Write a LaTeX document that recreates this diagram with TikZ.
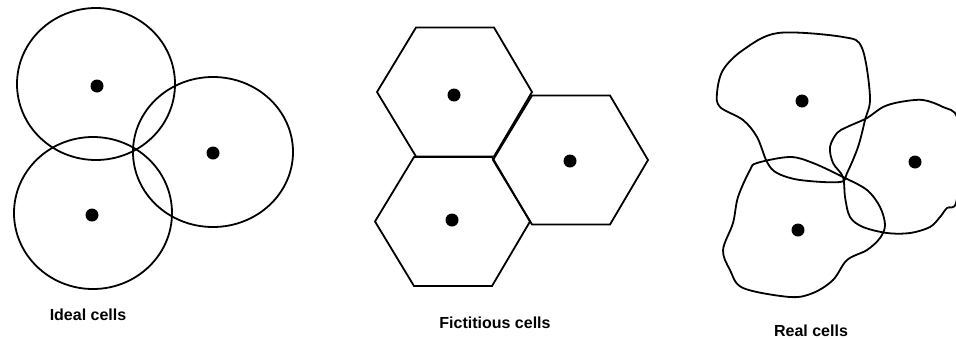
\documentclass[tikz,border=0pt]{standalone}
\usepackage{fontspec}
\setmainfont{Liberation Sans}
\begin{document}
\begin{tikzpicture}[x=0.5pt,y=-0.5pt,
    cell/.style={draw=black,line width=0.9pt},
    bts/.style={circle,fill=black,inner sep=0pt,minimum size=6.5pt},
    caption/.style={font=\fontsize{8}{9}\selectfont\bfseries}]
  \useasboundingbox (0,0) rectangle (956,338);
  % Ideal cells: circles around each base station
  \def\rx{39.5pt} \def\ry{38pt}
  \draw[cell] (96,84) ellipse [x radius=\rx,y radius=\ry];
  \draw[cell] (93,213) ellipse [x radius=\rx,y radius=\ry];
  \draw[cell] (213,152) ellipse [x radius=40pt,y radius=37.5pt];
  \node[bts] (ia) at (97,86) {};
  \node[bts] (ib) at (92,215) {};
  \node[bts] (ic) at (213,153) {};
  \node[caption] (ideal) at (88,315) {Ideal cells};
  % Fictitious cells: hexagons
  \newcommand{\hexcell}[1]{\draw[cell] (#1) ++(77,0) -- ++(-38,-64.5) -- ++(-78,0)
    -- ++(-39,64.5) -- ++(39,64.5) -- ++(78,0) -- cycle;}
  \hexcell{455,92}
  \hexcell{453,221.5}
  \hexcell{571,160}
  \node[bts] (fa) at (454,95) {};
  \node[bts] (fb) at (452,220) {};
  \node[bts] (fc) at (570,161) {};
  \node[caption] (fict) at (495,323) {Fictitious cells};
  % Real cells: irregular outlines
  \draw[cell] plot[smooth cycle,tension=0.55] coordinates {
    (778,33) (843,37) (862,48) (870,97) (865,120) (858,147) (847,173) (840,182)
    (800,180) (777,173) (767,162) (757,137) (743,120) (720,107) (717,93)
    (723,70) (743,50)};
  \draw[cell] plot[smooth cycle,tension=0.55] coordinates {
    (757,163) (790,157) (813,163) (843,177) (867,190) (880,207) (885,225)
    (880,238) (867,250) (847,260) (833,280) (813,293) (790,297) (743,288)
    (730,270) (723,250) (733,223) (738,197) (750,170)};
  \draw[cell] plot[smooth cycle,tension=0.55] coordinates {
    (843,177) (833,163) (830,147) (837,133) (847,127) (867,118) (883,107)
    (900,102) (923,100) (943,107) (957,117) (961,160) (956,203) (947,208)
    (940,217) (930,227) (910,233) (887,233) (863,227) (850,217) (845,197)};
  \node[bts] (ra) at (802,101) {};
  \node[bts] (rb) at (798,230) {};
  \node[bts] (rc) at (915,162) {};
  \node[caption] (real) at (811,331) {Real cells};
\end{tikzpicture}
\end{document}
